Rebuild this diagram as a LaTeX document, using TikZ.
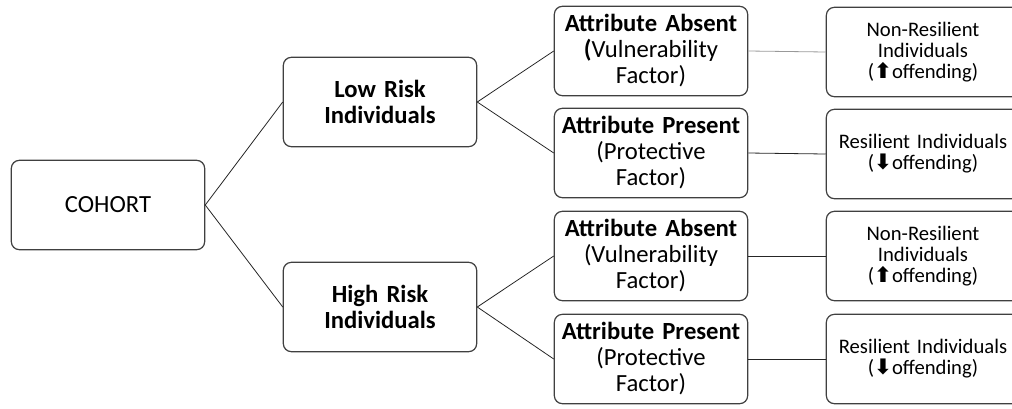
\documentclass[tikz,border=0pt]{standalone}
\usepackage{fontspec}
\setmainfont{Carlito}
\newfontfamily\arrowfont{DejaVu Sans}
\usetikzlibrary{positioning}

\tikzset{
box/.style={draw=black!75, line width=0.9pt, rounded corners=6pt, fill=white, align=center, minimum width=145pt, minimum height=67pt, inner sep=0pt, text width=145pt},
bigtext/.style={font=\fontsize{18.5}{19.5}\selectfont},
boldtext/.style={font=\fontsize{18.5}{19}\selectfont\bfseries},
smalltext/.style={font=\fontsize{15.5}{15.75}\selectfont},
link/.style={black!85, line width=0.6pt}
}

\newcommand{\upoff}{({\arrowfont\bfseries\fontsize{16}{13}\selectfont ⬆}offending)}
\newcommand{\downoff}{({\arrowfont\bfseries\fontsize{16}{13}\selectfont ⬇}offending)}

\begin{document}
\begin{tikzpicture}[x=0.75pt,y=-0.75pt]

\useasboundingbox (0,0) rectangle (1012,408);

% first column
\node[box, bigtext] (cohort) at (108,205) {COHORT};

% risk groups
\node[box, boldtext] (low) at (380,102) {Low Risk\\Individuals};
\node[box, boldtext] (high) at (380,307) {High Risk\\Individuals};

% attributes
\node[box, bigtext] (absentA) at (651,51) {\textbf{Attribute Absent}\\\textbf{(}Vulnerability\\Factor)};
\node[box, bigtext] (presentA) at (651,153) {\textbf{Attribute Present}\\(Protective\\Factor)};
\node[box, bigtext] (absentB) at (651,256) {\textbf{Attribute Absent}\\(Vulnerability\\Factor)};
\node[box, bigtext] (presentB) at (651,359) {\textbf{Attribute Present}\\(Protective\\Factor)};

% outcomes
\node[box, smalltext] (nonresA) at (923,52) {Non-Resilient\\Individuals\\\upoff};
\node[box, smalltext] (resA) at (923,154) {Resilient Individuals\\\downoff};
\node[box, smalltext] (nonresB) at (923,256) {Non-Resilient\\Individuals\\\upoff};
\node[box, smalltext] (resB) at (923,359) {Resilient Individuals\\\downoff};

% connectors
\draw[link] (cohort.east) -- (low.west);
\draw[link] (cohort.east) -- (high.west);
\draw[link] (low.east) -- (absentA.west);
\draw[link] (low.east) -- (presentA.west);
\draw[link] (high.east) -- (absentB.west);
\draw[link] (high.east) -- (presentB.west);
\draw[link, black!40] (absentA.east) -- (nonresA.west);
\draw[link] (presentA.east) -- (resA.west);
\draw[link] (absentB.east) -- (nonresB.west);
\draw[link] (presentB.east) -- (resB.west);

\end{tikzpicture}
\end{document}
